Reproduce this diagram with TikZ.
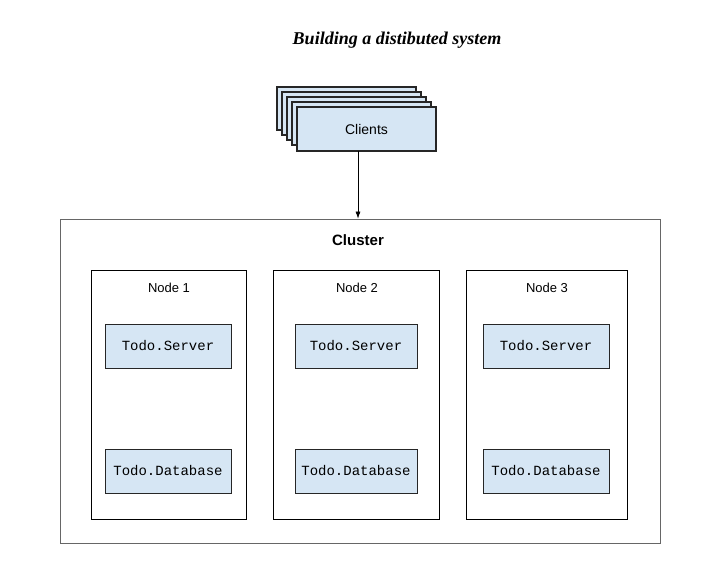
\documentclass[tikz,border=0pt]{standalone}
\usepackage{fontspec}
\setmainfont{Liberation Sans}
\setmonofont{Liberation Mono}
\newfontfamily\titlefont{Liberation Serif}
\usetikzlibrary{arrows.meta}

\definecolor{boxblue}{RGB}{214,230,244}

\begin{document}
\begin{tikzpicture}[x=1pt, y=-1pt,
	bluebox/.style={draw=black!85, fill=boxblue, line width=0.8pt, inner sep=0pt},
	hostbox/.style={draw=black, line width=0.8pt, inner sep=0pt},
	modbox/.style={bluebox, minimum height=44pt, font=\ttfamily\fontsize{14}{16}\selectfont},
	hostlabel/.style={font=\fontsize{13}{15}\selectfont}]
	\useasboundingbox (0,0) rectangle (722,562);
	\node[font=\titlefont\bfseries\itshape\fontsize{18}{21}\selectfont] (title) at (397,40) {Building a distibuted system};

	% stack of clients
	\foreach \k in {0,...,3}
	{
		\draw[bluebox, line width=1.2pt] (277+5*\k,87+5*\k) rectangle (416+5*\k,130+5*\k);
	}
	\node[bluebox, line width=1.2pt, minimum width=139pt, minimum height=44pt, font=\fontsize{14}{16}\selectfont] (clients) at (366.5,129) {Clients};

	\node[draw=black!60, line width=0.8pt, minimum width=600pt, minimum height=324pt] (cluster) at (360,381) {};
	\node[font=\bfseries\fontsize{15}{18}\selectfont] (clusterlabel) at (358,240) {Cluster};
	\coordinate (drop) at (358,151);
	\draw[-{Latex[length=7pt,width=5pt]}, line width=0.6pt] (drop) -- (drop |- cluster.north);

	\node[hostbox, minimum width=155pt, minimum height=249pt] (host1) at (168.5,394.5) {};
	\node[hostbox, minimum width=166pt, minimum height=249pt] (host2) at (356,394.5) {};
	\node[hostbox, minimum width=161pt, minimum height=249pt] (host3) at (546.5,394.5) {};
	\node[hostlabel] (label1) at (169,288) {Node 1};
	\node[hostlabel] (label2) at (357,288) {Node 2};
	\node[hostlabel] (label3) at (547,288) {Node 3};

	\node[modbox, minimum width=126pt] (server1) at (168,346) {Todo.Server};
	\node[modbox, minimum width=122pt] (server2) at (356,346) {Todo.Server};
	\node[modbox, minimum width=126pt] (server3) at (546,346) {Todo.Server};
	\node[modbox, minimum width=126pt] (db1) at (168,471) {Todo.Database};
	\node[modbox, minimum width=122pt] (db2) at (356,471) {Todo.Database};
	\node[modbox, minimum width=126pt] (db3) at (546,471) {Todo.Database};
\end{tikzpicture}
\end{document}
